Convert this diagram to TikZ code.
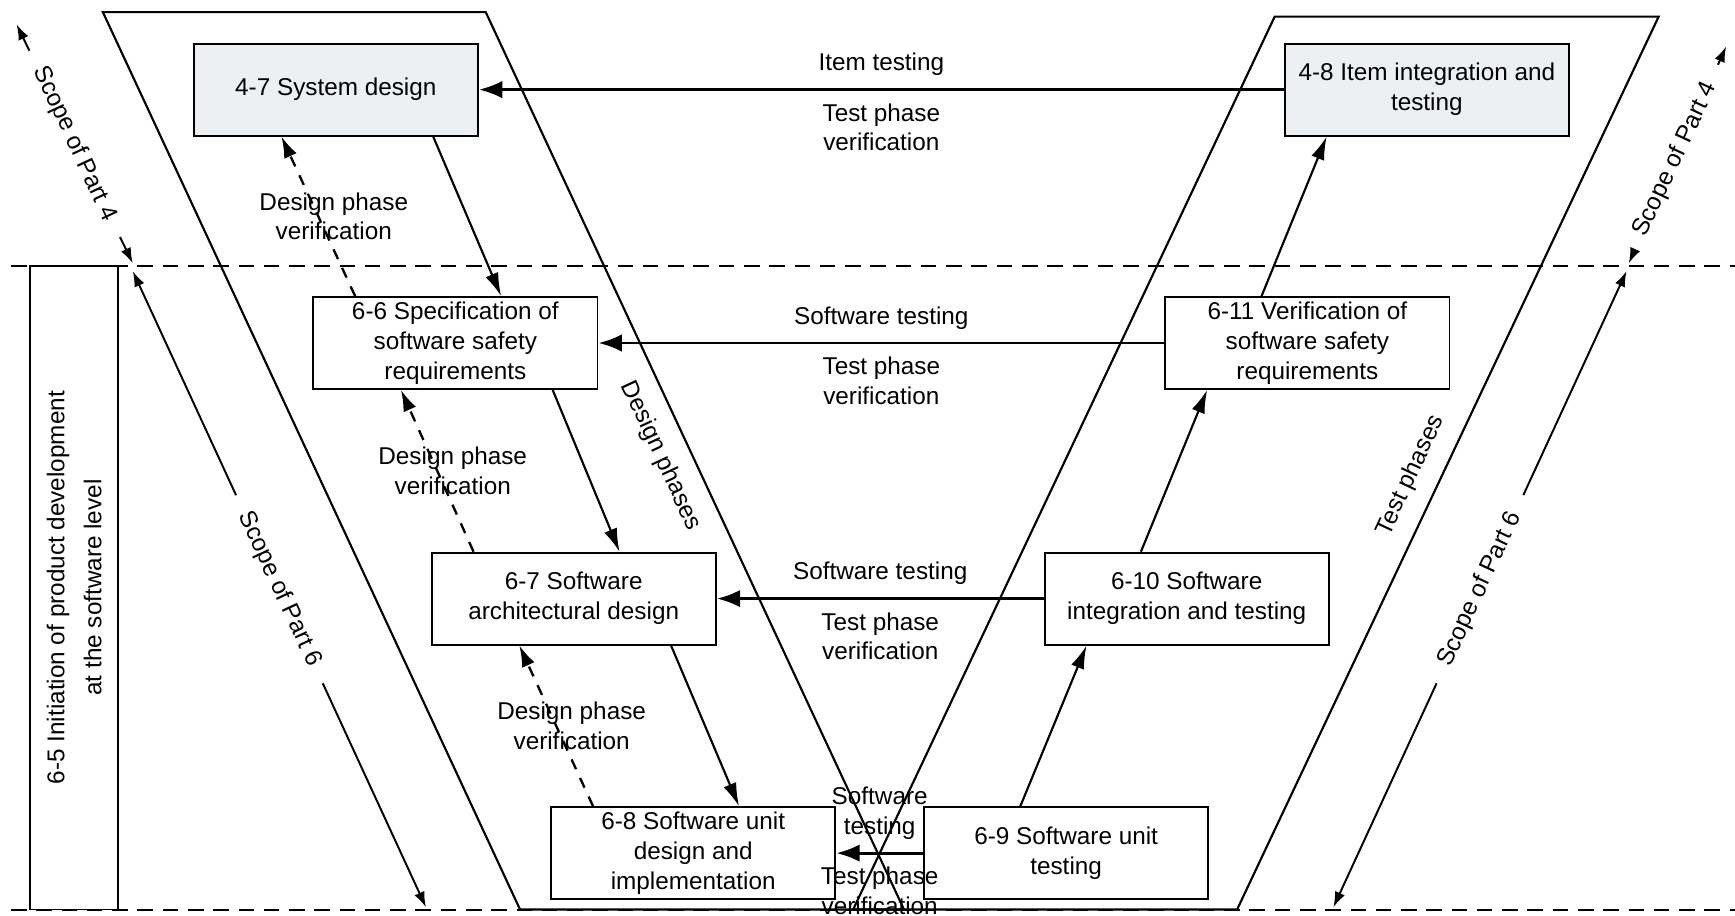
\documentclass[tikz,border=0pt]{standalone}
\usepackage{fontspec}
\setmainfont{Liberation Sans}
\usetikzlibrary{arrows.meta,calc}
\definecolor{boxgray}{RGB}{236,240,242}

\begin{document}
\begin{tikzpicture}[x=0.02cm, y=-0.02cm,
    every node/.style={font=\fontsize{12.5}{15.4}\selectfont},
    stagebox/.style={draw, line width=1pt, inner sep=1pt, minimum width=5.14cm, minimum height=1.66cm, align=center},
    itembox/.style={stagebox, fill=boxgray},
    devarrow/.style={line width=1.1pt, -{Latex[length=12pt,width=7pt]}},
    verarrow/.style={line width=1.2pt, dash pattern=on 5.5pt off 5pt, -{Latex[length=11pt,width=7pt]}},
    testarrow/.style={line width=1.5pt, -{Latex[length=12pt,width=9pt]}},
    scopelabel/.style={inner xsep=10pt, inner ysep=0pt},
    scopearrow/.style={line width=1pt, -{Latex[length=8pt,width=5.5pt]}},
    levelline/.style={line width=1pt, dash pattern=on 8pt off 5pt}]
    \useasboundingbox (0,0) rectangle (1568,827);

    % Niveaux
    \draw[levelline] (10,240) -- (1568,240);
    \draw[levelline] (10,822) -- (1568,822);

    % Phases de conception et de test
    \draw[line width=1.1pt] (93,11) -- (439,11) -- (817,822) -- (470,822) -- cycle;
    \draw[line width=1.1pt] (1152,15) -- (1499,15) -- (1118,822) -- (771,822) -- cycle;
    \node[rotate=-65] (dp) at (597,412) {Design phases};
    \node[rotate=65] (tp) at (1275,430) {Test phases};

    % Etapes
    \node[itembox] (sd) at (303.5,81) {4-7 System design};
    \node[itembox] (id) at (1289.5,81) {4-8 Item integration and\\testing};
    \node[stagebox] (ssr) at (411.5,310) {6-6 Specification of\\software safety\\requirements};
    \node[stagebox] (vsr) at (1181.5,310) {6-11 Verification of\\software safety\\requirements};
    \node[stagebox] (ad) at (518.5,541) {6-7 Software\\architectural design};
    \node[stagebox] (sit) at (1072.5,541) {6-10 Software\\integration and testing};
    \node[stagebox] (ud) at (626.5,771) {6-8 Software unit\\design and\\implementation};
    \node[stagebox] (ut) at (963.5,771) {6-9 Software unit\\testing};

    % Initiation
    \node[draw, line width=1pt, rotate=90, minimum width=11.64cm, minimum height=1.6cm, align=center,
          font=\fontsize{12.5}{19}\selectfont] (init) at (67,531)
          {6-5 Initiation of product development\\at the software level};

    % Descente et remontee du V
    \foreach \hi/\lo in {sd/ssr, ssr/ad, ad/ud} {
        \draw[devarrow] ($(\hi.south west)!0.84!(\hi.south east)$) -- ($(\lo.north west)!0.66!(\lo.north east)$);
    }
    \foreach \lo/\hi in {ut/sit, sit/vsr, vsr/id} {
        \draw[devarrow] ($(\lo.north west)!0.34!(\lo.north east)$) -- ($(\hi.south west)!0.15!(\hi.south east)$);
    }

    % Verification des phases de conception
    \foreach \lo/\hi in {ssr/sd, ad/ssr, ud/ad} {
        \draw[verarrow] ($(\lo.north west)!0.15!(\lo.north east)$) -- ($(\hi.south west)!0.31!(\hi.south east)$)
            node[midway, xshift=0.28cm, align=center] {Design phase\\verification};
    }

    % Verification des phases de test
    \foreach \src/\dst/\what in {id/sd/{Item testing}, vsr/ssr/{Software testing}, sit/ad/{Software testing}, ut/ud/{Software\\testing}} {
        \draw[testarrow] (\src) -- (\dst)
            node[midway, above=3pt, align=center] {\what}
            node[midway, below=3pt, align=center] {Test phase\\verification};
    }

    % Portee des parties 4 et 6
    \coordinate (la) at (15,22);
    \coordinate (lb) at (120,238);
    \coordinate (lc) at (120,245);
    \coordinate (ld) at (385,820);
    \coordinate (ra) at (1560,42);
    \coordinate (rb) at (1472,238);
    \coordinate (rc) at (1470,245);
    \coordinate (rd) at (1205,820);
    \node[scopelabel, rotate=-65] (lp4) at ($(la)!0.5!(lb)$) {Scope of Part 4};
    \node[scopelabel, rotate=-65] (lp6) at ($(lc)!0.5!(ld)$) {Scope of Part 6};
    \node[scopelabel, rotate=65] (rp4) at ($(ra)!0.52!(rb)$) {Scope of Part 4};
    \node[scopelabel, rotate=65] (rp6) at ($(rc)!0.5!(rd)$) {Scope of Part 6};
    \draw[scopearrow] (lp4) -- (la);
    \draw[scopearrow] (lp4) -- (lb);
    \draw[scopearrow] (lp6) -- (lc);
    \draw[scopearrow] (lp6) -- (ld);
    \draw[scopearrow] (rp4) -- (ra);
    \draw[scopearrow] (rp4) -- (rb);
    \draw[scopearrow] (rp6) -- (rc);
    \draw[scopearrow] (rp6) -- (rd);
\end{tikzpicture}
\end{document}
